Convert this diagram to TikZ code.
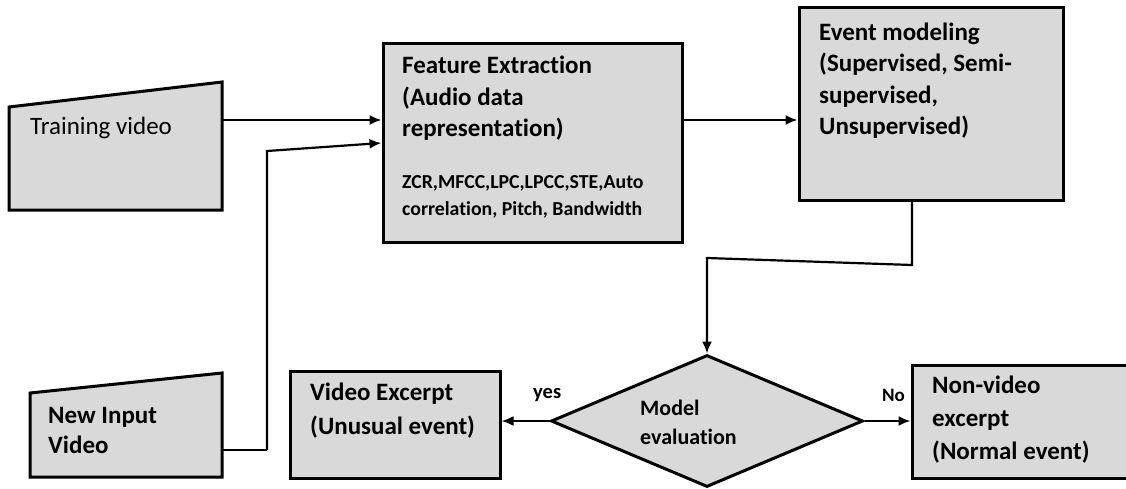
\documentclass[tikz,border=0pt]{standalone}
\usepackage{fontspec}
\setmainfont[Ligatures=NoCommon]{Carlito}
\usetikzlibrary{arrows.meta,shapes.geometric}
\definecolor{boxgray}{HTML}{D9D9D9}
\tikzset{
  block/.style={draw=black, line width=3pt, fill=boxgray, inner sep=0pt},
  flow/.style={draw=black, line width=2.2pt, -{Latex[length=12pt,width=10pt]}},
  thinflow/.style={draw=black, line width=1.6pt},
  lbl/.style={anchor=west, align=left, inner sep=0pt},
  bigbold/.style={font=\bfseries\fontsize{25}{31.5}\selectfont},
}
\begin{document}
\begin{tikzpicture}[x=1pt,y=-1pt]
\useasboundingbox (0,0) rectangle (1126,489);

% manual-input shapes (slanted top)
\draw[block] (9,107) -- (222,82) -- (222,210) -- (9,210) -- cycle;
\coordinate (train-out) at (222,120);
\draw[block] (30,393) -- (222,373) -- (222,477) -- (30,477) -- cycle;
\coordinate (new-out) at (222,450);

% process boxes and decision
\node[block, minimum width=299, minimum height=198] (fe) at (532.5,143) {};
\node[block, minimum width=264, minimum height=192] (em) at (931,104) {};
\node[block, diamond, aspect=2.36, minimum width=312, minimum height=132] (eval) at (707,421) {};
\node[block, minimum width=210, minimum height=107] (vex) at (395,424.5) {};
\node[block, minimum width=240, minimum height=113] (nvex) at (1032,421.5) {};

% texts
\node[lbl, anchor=base west, font=\fontsize{25}{31.5}\selectfont] (train-txt) at (30,135) {Training video};
\node[lbl, bigbold] (fe-txt) at (402,98.5) {Feature Extraction\\(Audio data\\representation)};
\node[lbl, font=\bfseries\fontsize{19.8}{27}\selectfont] (fe-list) at (402,196.5) {ZCR,MFCC,LPC,LPCC,STE,Auto\\correlation, Pitch, Bandwidth};
\node[lbl, bigbold] (em-txt) at (819,80.5) {Event modeling\\(Supervised, Semi-\\supervised,\\Unsupervised)};
\node[lbl, font=\bfseries\fontsize{25}{30}\selectfont] (new-txt) at (48,430) {New Input\\Video};
\node[lbl, font=\bfseries\fontsize{25}{34}\selectfont] (vex-txt) at (310,411) {Video Excerpt\\(Unusual event)};
\node[lbl, font=\bfseries\fontsize{22}{29}\selectfont] (eval-txt) at (640,422.5) {Model\\evaluation};
\node[lbl, font=\bfseries\fontsize{25}{33}\selectfont] (nvex-txt) at (932,420) {Non-video\\excerpt\\(Normal event)};
\node[lbl, font=\bfseries\fontsize{20.5}{24}\selectfont] (yes) at (533,395) {yes};
\node[lbl, font=\bfseries\fontsize{19}{24}\selectfont] (no) at (882,395) {No};

% connectors
\coordinate (rise) at (267,151);
\coordinate (drop) at (912,265);
\coordinate (over) at (707,258);
\draw[flow] (train-out) -- (fe.west |- train-out);
\draw[thinflow] (new-out) -- (new-out -| rise);
\draw[flow] (new-out -| rise) -- (rise) -- (fe.west |- 0,143);
\draw[flow] (fe.east |- 0,120) -- (em.west |- 0,120);
\draw[flow] (em.south -| drop) -- (drop) -- (over) -- (eval.north);
\draw[flow] (eval.west) -- (vex.east |- eval.west);
\draw[flow] (eval.east) -- (nvex.west |- eval.east);
\end{tikzpicture}
\end{document}
